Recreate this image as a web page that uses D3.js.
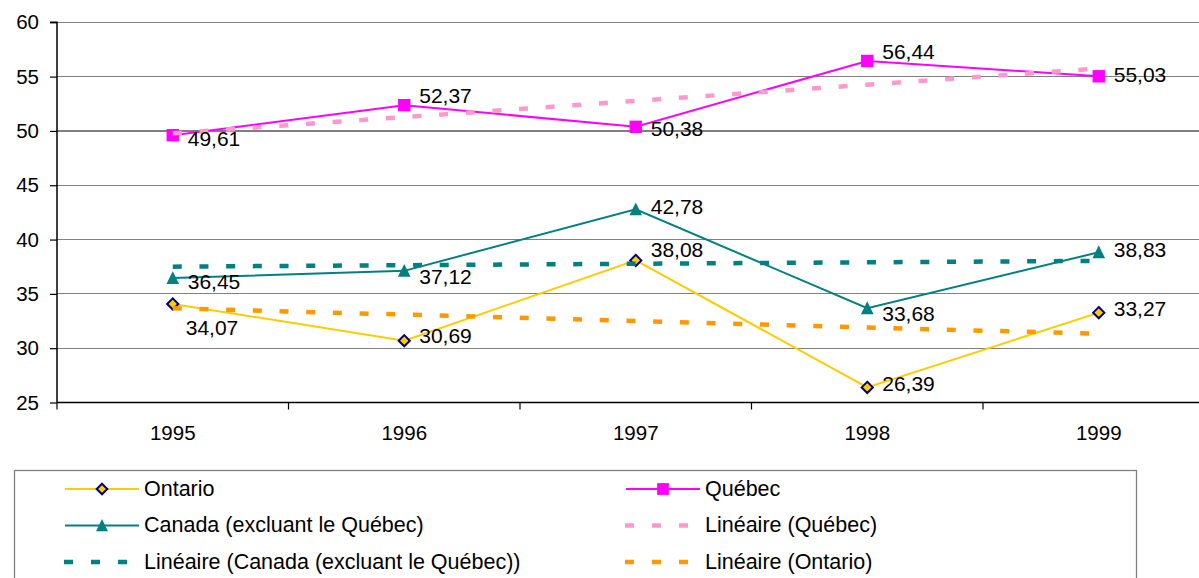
<!DOCTYPE html>
<html>
<head>
<meta charset="utf-8">
<script src="https://cdn.jsdelivr.net/npm/d3@7"></script>
<style>
  html, body { margin: 0; padding: 0; background: #fff; }
  svg { display: block; font-family: "Liberation Sans", Arial, sans-serif; }
</style>
</head>
<body>
<svg id="chart" width="1199" height="578"></svg>
<script>
// ---------- data ----------
const years = ["1995", "1996", "1997", "1998", "1999"];
const ontario = [34.07, 30.69, 38.08, 26.39, 33.27];
const quebec = [49.61, 52.37, 50.38, 56.44, 55.03];
const canadaExQc = [36.45, 37.12, 42.78, 33.68, 38.83];
const yTicks = [25, 30, 35, 40, 45, 50, 55, 60];
const legendLabels = [
  "Ontario", "Québec",
  "Canada (excluant le Québec)", "Linéaire (Québec)",
  "Linéaire (Canada (excluant le Québec))", "Linéaire (Ontario)"
];

// ---------- label nudges (layout only, px) ----------
const qcLabelDy = [5, -8, 4, -8, 0];
const caLabelDy = [5, 8, -1, 7, -1];
const onLabelDy = [25, -3, -9, -2, -2];
const onLabelDx = [13, 15, 15, 15, 15];

// ---------- helpers ----------
function linFit(vals) {
  const xs = vals.map((_, i) => i + 1);
  const mx = d3.mean(xs), my = d3.mean(vals);
  let num = 0, den = 0;
  xs.forEach((xv, i) => { num += (xv - mx) * (vals[i] - my); den += (xv - mx) * (xv - mx); });
  const b = num / den, a = my - b * mx;
  return xs.map(xv => a + b * xv);
}

const svg = d3.select("#chart");
const left = 57, band = 231.5;
const x = d3.scaleBand().domain(years).range([left, left + band * years.length]).paddingInner(0).paddingOuter(0);
const y = d3.scaleLinear().domain([25, 60]).range([402.5, 22.3]);
const cx = d => x(d) + x.bandwidth() / 2;
const fmt = v => d3.format(".2f")(v).replace(".", ",");
const FONT = 20.5;
const DFONT = 21;
const LFONT = 21.5;

// gridlines
svg.append("g").selectAll("line").data(yTicks.filter(t => t > 25)).join("line")
  .attr("x1", left).attr("x2", 1199)
  .attr("y1", d => y(d)).attr("y2", d => y(d))
  .attr("stroke", "#808080").attr("stroke-width", 1.2).attr("shape-rendering", "crispEdges");

// y axis
const yAxis = d3.axisLeft(y).tickValues(yTicks).tickSize(7).tickPadding(11).tickFormat(d3.format("d"));
const gy = svg.append("g").attr("transform", `translate(${left},0)`).call(yAxis);
gy.select(".domain").attr("stroke", "#000").attr("stroke-width", 1.5).attr("d", `M-7,${y(60)}H0V${y(25)}`);
gy.selectAll(".tick line").attr("stroke", "#000").attr("stroke-width", 1.2);
gy.selectAll("text").attr("font-size", FONT).attr("fill", "#000").attr("font-family", "Liberation Sans, Arial, sans-serif");

// x axis
const gx = svg.append("g").attr("transform", `translate(0,${y(25)})`);
gx.append("line").attr("x1", left).attr("x2", 1199).attr("y1", 0).attr("y2", 0)
  .attr("stroke", "#000").attr("stroke-width", 1.5);
gx.selectAll("line.tk").data(years).join("line").attr("class", "tk")
  .attr("x1", d => x(d)).attr("x2", d => x(d)).attr("y1", 0).attr("y2", 7)
  .attr("stroke", "#000").attr("stroke-width", 1.2);
gx.selectAll("text").data(years).join("text")
  .attr("x", d => cx(d)).attr("y", 32)
  .attr("text-anchor", "middle").attr("dominant-baseline", "middle")
  .attr("font-size", FONT).attr("fill", "#000").text(d => d);

// ---------- series styling ----------
const series = [
  { vals: ontario, color: "#FFCC00", trendColor: "#FF9900", marker: "diamond", dy: onLabelDy, dx: onLabelDx },
  { vals: quebec, color: "#FF00FF", trendColor: "#FF99CC", marker: "square", dy: qcLabelDy, dx: [15,15,15,15,15] },
  { vals: canadaExQc, color: "#008080", trendColor: "#008080", marker: "triangle", dy: caLabelDy, dx: [15,15,15,15,15] }
];

function markerPath(type, s) {
  if (type === "square") return `M${-s},${-s}H${s}V${s}H${-s}Z`;
  if (type === "triangle") return `M0,${-s * 1.1}L${s},${s * 0.95}H${-s}Z`;
  return `M0,${-s}L${s},0L0,${s}L${-s},0Z`;
}
function drawMarker(g, type, px, py, scale) {
  const sc = scale || 1;
  if (type === "diamond") {
    g.append("path").attr("d", markerPath("diamond", 5.6 * sc)).attr("transform", `translate(${px},${py})`)
      .attr("fill", "#FFCC00").attr("stroke", "#000080").attr("stroke-width", 2);
  } else if (type === "square") {
    g.append("path").attr("d", markerPath("square", 6.2 * sc)).attr("transform", `translate(${px},${py})`)
      .attr("fill", "#FF00FF");
  } else {
    g.append("path").attr("d", markerPath("triangle", 6.3 * sc)).attr("transform", `translate(${px},${py})`)
      .attr("fill", "#008080");
  }
}

const line = d3.line().x((d, i) => cx(years[i])).y(d => y(d));

const gSeries = svg.append("g");
const gTrend = svg.append("g");
const gLabels = svg.append("g");

series.forEach(s => {
  gSeries.append("path").attr("d", line(s.vals)).attr("fill", "none")
    .attr("stroke", s.color).attr("stroke-width", 2);
});
series.forEach(s => {
  s.vals.forEach((v, i) => drawMarker(gSeries, s.marker, cx(years[i]), y(v)));
});

// trendlines (linear least-squares fit of each series)
[series[1], series[2], series[0]].forEach(s => {
  const fit = linFit(s.vals);
  gTrend.append("path").attr("d", line(fit)).attr("fill", "none")
    .attr("stroke", s.trendColor).attr("stroke-width", 4.5)
    .attr("stroke-dasharray", "9,17.7");
});

// data labels
series.forEach(s => {
  s.vals.forEach((v, i) => {
    gLabels.append("text")
      .attr("x", cx(years[i]) + s.dx[i]).attr("y", y(v) + s.dy[i])
      .attr("dominant-baseline", "middle")
      .attr("font-size", DFONT).attr("fill", "#000").text(fmt(v));
  });
});

// ---------- legend ----------
const lg = svg.append("g");
lg.append("rect").attr("x", 14.5).attr("y", 470.5).attr("width", 1122).attr("height", 140)
  .attr("fill", "#fff").attr("stroke", "#808080").attr("stroke-width", 1.3);

const rows = [489, 525.5, 562];
const colOffset = 561;
const cols = [{ x1: 65, x2: 139, tx: 144 }, { x1: 65 + colOffset, x2: 139 + colOffset, tx: 144 + colOffset }];
const legendItems = [
  { label: legendLabels[0], col: 0, row: 0, kind: "series", s: series[0] },
  { label: legendLabels[1], col: 1, row: 0, kind: "series", s: series[1] },
  { label: legendLabels[2], col: 0, row: 1, kind: "series", s: series[2] },
  { label: legendLabels[3], col: 1, row: 1, kind: "trend", s: series[1] },
  { label: legendLabels[4], col: 0, row: 2, kind: "trend", s: series[2] },
  { label: legendLabels[5], col: 1, row: 2, kind: "trend", s: series[0] }
];
legendItems.forEach(it => {
  const c = cols[it.col], ry = rows[it.row];
  if (it.kind === "series") {
    lg.append("line").attr("x1", c.x1).attr("x2", c.x2).attr("y1", ry).attr("y2", ry)
      .attr("stroke", it.s.color).attr("stroke-width", 2);
    drawMarker(lg, it.s.marker, (c.x1 + c.x2) / 2, ry, 0.95);
  } else {
    lg.append("line").attr("x1", c.x1 - 1).attr("x2", c.x1 + 63).attr("y1", ry).attr("y2", ry)
      .attr("stroke", it.s.trendColor).attr("stroke-width", 4.5)
      .attr("stroke-dasharray", "9,18");
  }
  lg.append("text").attr("x", c.tx).attr("y", ry + 1).attr("dominant-baseline", "middle")
    .attr("font-size", LFONT).attr("fill", "#000").text(it.label);
});
</script>
</body>
</html>
